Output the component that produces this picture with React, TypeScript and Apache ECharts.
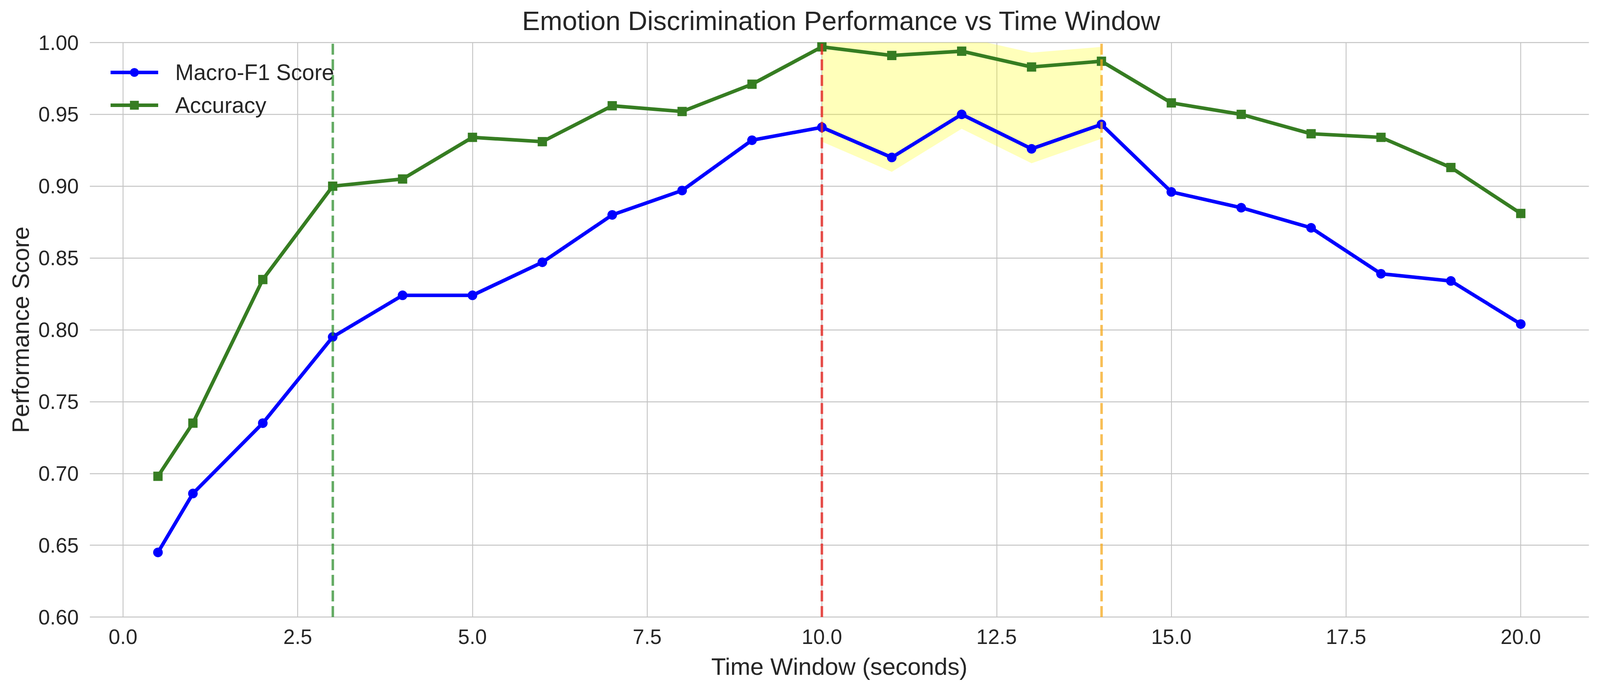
import React, { useEffect, useRef } from "react";
import * as echarts from "echarts";

const timeWindows = [0.5, 1, 2, 3, 4, 5, 6, 7, 8, 9, 10, 11, 12, 13, 14, 15, 16, 17, 18, 19, 20];
const macroF1 = [0.645, 0.686, 0.735, 0.795, 0.824, 0.824, 0.847, 0.880, 0.897, 0.932, 0.941, 0.920, 0.950, 0.926, 0.943, 0.896, 0.885, 0.871, 0.839, 0.834, 0.804];
const accuracy = [0.698, 0.735, 0.835, 0.900, 0.905, 0.934, 0.931, 0.956, 0.952, 0.971, 0.997, 0.991, 0.994, 0.983, 0.987, 0.958, 0.950, 0.9365, 0.934, 0.913, 0.881];
const xTicks = [0, 2.5, 5, 7.5, 10, 12.5, 15, 17.5, 20];
const refLineX = [3, 10, 14];
const refLineColors = ["rgba(40,140,40,0.72)", "rgba(230,40,35,0.8)", "rgba(245,170,30,0.75)"];
const bandStart = 10;
const bandEnd = 14;
const bandMargin = 0.01;

const FONT = "Liberation Sans, Arial, Helvetica, sans-serif";
const TXT = "#262626";

export default function App() {
  const ref = useRef<HTMLDivElement>(null);
  useEffect(() => {
    const el = ref.current;
    if (!el) return;
    const chart = echarts.init(el, null, { renderer: "svg" });
    const W = el.clientWidth || 4471;
    const H = el.clientHeight || 1772;
    const sx = W / 4471;
    const sy = H / 1772;
    const s = Math.min(sx, sy);

    const bandData: number[][] = [];
    timeWindows.forEach((x, i) => {
      if (x >= bandStart && x <= bandEnd) {
        bandData.push([x, macroF1[i] - bandMargin, accuracy[i] + bandMargin]);
      }
    });

    const option = {
      animation: false,
      backgroundColor: "#ffffff",
      textStyle: { fontFamily: FONT },
      title: {
        text: "Emotion Discrimination Performance vs Time Window",
        left: 2345 * sx,
        top: 14 * sy,
        textAlign: "center",
        textStyle: { fontFamily: FONT, fontSize: 75 * s, fontWeight: "normal", color: TXT },
      },
      legend: {
        left: 304 * sx,
        top: 157 * sy,
        orient: "vertical",
        padding: 0,
        itemWidth: 133 * sx,
        itemHeight: 31 * s,
        itemGap: 27 * sy,
        lineStyle: { width: 10 * s },
        textStyle: { fontFamily: FONT, fontSize: 62 * s, color: TXT, padding: [0, 0, 0, 42 * sx] },
        data: ["Macro-F1 Score", "Accuracy"],
      },
      grid: { left: 251 * sx, right: 31 * sx, top: 109 * sy, bottom: 192 * sy, containLabel: false },
      xAxis: {
        type: "value",
        min: -0.475,
        max: 20.975,
        name: "Time Window (seconds)",
        nameLocation: "middle",
        nameGap: 96 * sy,
        nameTextStyle: { fontFamily: FONT, fontSize: 67 * s, color: TXT },
        axisLine: { show: false },
        axisTick: { show: false, customValues: xTicks },
        axisLabel: {
          customValues: xTicks,
          fontFamily: FONT,
          fontSize: 58 * s,
          color: TXT,
          margin: 24 * sy,
          formatter: (v: number) => v.toFixed(1),
        },
        splitLine: { show: true, lineStyle: { color: "#c4c4c4", width: 2.5 * s } },
      },
      yAxis: {
        type: "value",
        min: 0.6,
        max: 1.0,
        interval: 0.05,
        name: "Performance Score",
        nameLocation: "middle",
        nameGap: 160 * sx,
        nameTextStyle: { fontFamily: FONT, fontSize: 67 * s, color: TXT },
        axisLine: { show: false },
        axisTick: { show: false },
        axisLabel: {
          fontFamily: FONT,
          fontSize: 58 * s,
          color: TXT,
          margin: 31 * sx,
          formatter: (v: number) => v.toFixed(2),
        },
        splitLine: { show: true, lineStyle: { color: "#c4c4c4", width: 2.5 * s } },
      },
      series: [
        {
          type: "custom",
          name: "band",
          clip: true,
          z: 1,
          silent: true,
          data: bandData,
          renderItem: (params: any, api: any) => {
            if (params.dataIndex !== 0) return null;
            const pts: number[][] = [];
            bandData.forEach((d) => pts.push(api.coord([d[0], d[1]])));
            for (let i = bandData.length - 1; i >= 0; i--) {
              pts.push(api.coord([bandData[i][0], bandData[i][2]]));
            }
            return {
              type: "polygon",
              shape: { points: pts },
              style: { fill: "rgba(255,255,0,0.27)", stroke: "none" },
            };
          },
        },
        {
          type: "line",
          name: "Macro-F1 Score",
          z: 3,
          data: timeWindows.map((x, i) => [x, macroF1[i]]),
          symbol: "circle",
          symbolSize: 27 * s,
          color: "#0000ff",
          lineStyle: { color: "#0000ff", width: 10 * s },
          itemStyle: { color: "#0000ff" },
        },
        {
          type: "line",
          name: "Accuracy",
          z: 4,
          data: timeWindows.map((x, i) => [x, accuracy[i]]),
          symbol: "rect",
          symbolSize: 26 * s,
          color: "#367d22",
          lineStyle: { color: "#367d22", width: 10 * s },
          itemStyle: { color: "#367d22" },
        },
        {
          type: "line",
          name: "refs",
          z: 6,
          data: [],
          markLine: {
            silent: true,
            symbol: "none",
            label: { show: false },
            emphasis: { disabled: true },
            data: refLineX.map((x, i) => ({
              xAxis: x,
              lineStyle: { color: refLineColors[i], width: 7 * s, type: [28 * sy, 12 * sy] },
            })),
          },
        },
      ],
    };
    chart.setOption(option as any);
    return () => chart.dispose();
  }, []);
  return (
    <div
      ref={ref}
      style={{ position: "fixed", left: 0, top: 0, width: "100vw", height: "100vh", background: "#fff" }}
    />
  );
}
